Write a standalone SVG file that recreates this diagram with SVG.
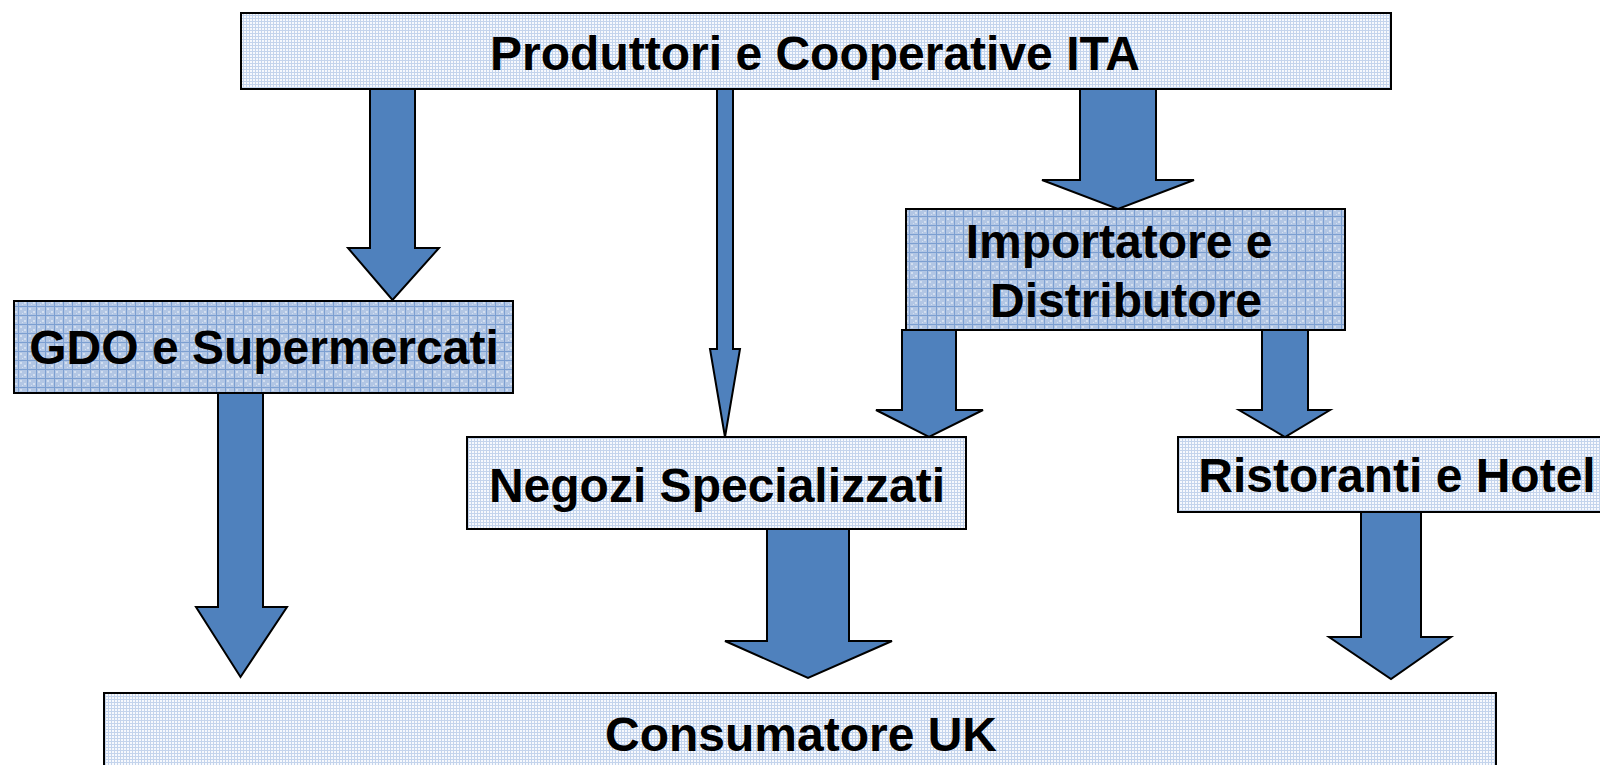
<svg xmlns="http://www.w3.org/2000/svg" width="1600" height="765" viewBox="0 0 1600 765">
  <defs>
    <pattern id="lite" x="0" y="0" width="3" height="3" patternUnits="userSpaceOnUse">
      <rect width="3" height="3" fill="#f7f9fd"/>
      <rect width="3" height="1" fill="#c4d4ec"/>
      <rect width="1" height="3" fill="#c4d4ec"/>
    </pattern>
    <pattern id="dark" x="0" y="0" width="9" height="9" patternUnits="userSpaceOnUse">
      <rect width="9" height="9" fill="#b2c6e4"/>
      <rect x="2" y="2" width="2" height="2" fill="#d3dff0"/>
      <rect x="6" y="5" width="2" height="2" fill="#d3dff0"/>
      <rect x="4" y="7" width="1" height="1" fill="#d3dff0"/>
      <rect width="9" height="1" fill="#7c9fd1"/>
      <rect width="1" height="9" fill="#7c9fd1"/>
    </pattern>
    <style>
      .box { stroke: #000; stroke-width: 2; }
      .lite { fill: url(#lite); }
      .dark { fill: url(#dark); }
      .lbl { font-family: "Liberation Sans", Arial, sans-serif; font-weight: bold; font-size: 48px; fill: #000; text-anchor: middle; }
      .arr { fill: #4f81bd; stroke: #000; stroke-width: 2; stroke-linejoin: miter; }
    </style>
  </defs>
  <rect width="1600" height="765" fill="#fff"/>

  <g id="connectors">
    <polygon class="arr" points="370,89 415,89 415,248 439,248 392.5,300 348,248 370,248"/>
    <polygon class="arr" points="717,89 733,89 733,349 740,349 725,437 710,349 717,349"/>
    <polygon class="arr" points="1080,89 1156,89 1156,180 1194,180 1118,209 1042,180 1080,180"/>
    <polygon class="arr" points="902,330 956,330 956,410 983,410 929,437 876,410 902,410"/>
    <polygon class="arr" points="1262,330 1308,330 1308,410 1330,410 1285,437 1239,410 1262,410"/>
    <polygon class="arr" points="218,393 263,393 263,607 287,607 240.5,677 196,607 218,607"/>
    <polygon class="arr" points="767,529 849,529 849,641 892,641 808,678 725,641 767,641"/>
    <polygon class="arr" points="1361,512 1421,512 1421,637 1451,637 1391,679 1329,637 1361,637"/>
  </g>

  <g id="produttori">
    <rect class="box lite" x="241" y="13" width="1150" height="76"/>
    <text class="lbl" x="815" y="70" font-size="49">Produttori e Cooperative ITA</text>
  </g>

  <g id="gdo">
    <rect class="box dark" x="14" y="301" width="499" height="92"/>
    <text class="lbl" x="264" y="364">GDO e Supermercati</text>
  </g>

  <g id="importatore">
    <rect class="box dark" x="906" y="209" width="439" height="121"/>
    <text class="lbl" x="1119" y="258">Importatore e</text>
    <text class="lbl" x="1126" y="317">Distributore</text>
  </g>

  <g id="negozi">
    <rect class="box lite" x="467" y="437" width="499" height="92"/>
    <text class="lbl" x="717" y="502">Negozi Specializzati</text>
  </g>

  <g id="ristoranti">
    <rect class="box lite" x="1178" y="437" width="438" height="75"/>
    <text class="lbl" x="1397" y="492">Ristoranti e Hotel</text>
  </g>

  <g id="consumatore">
    <rect class="box lite" x="104" y="693" width="1392" height="110"/>
    <text class="lbl" x="801" y="751">Consumatore UK</text>
  </g>
</svg>
